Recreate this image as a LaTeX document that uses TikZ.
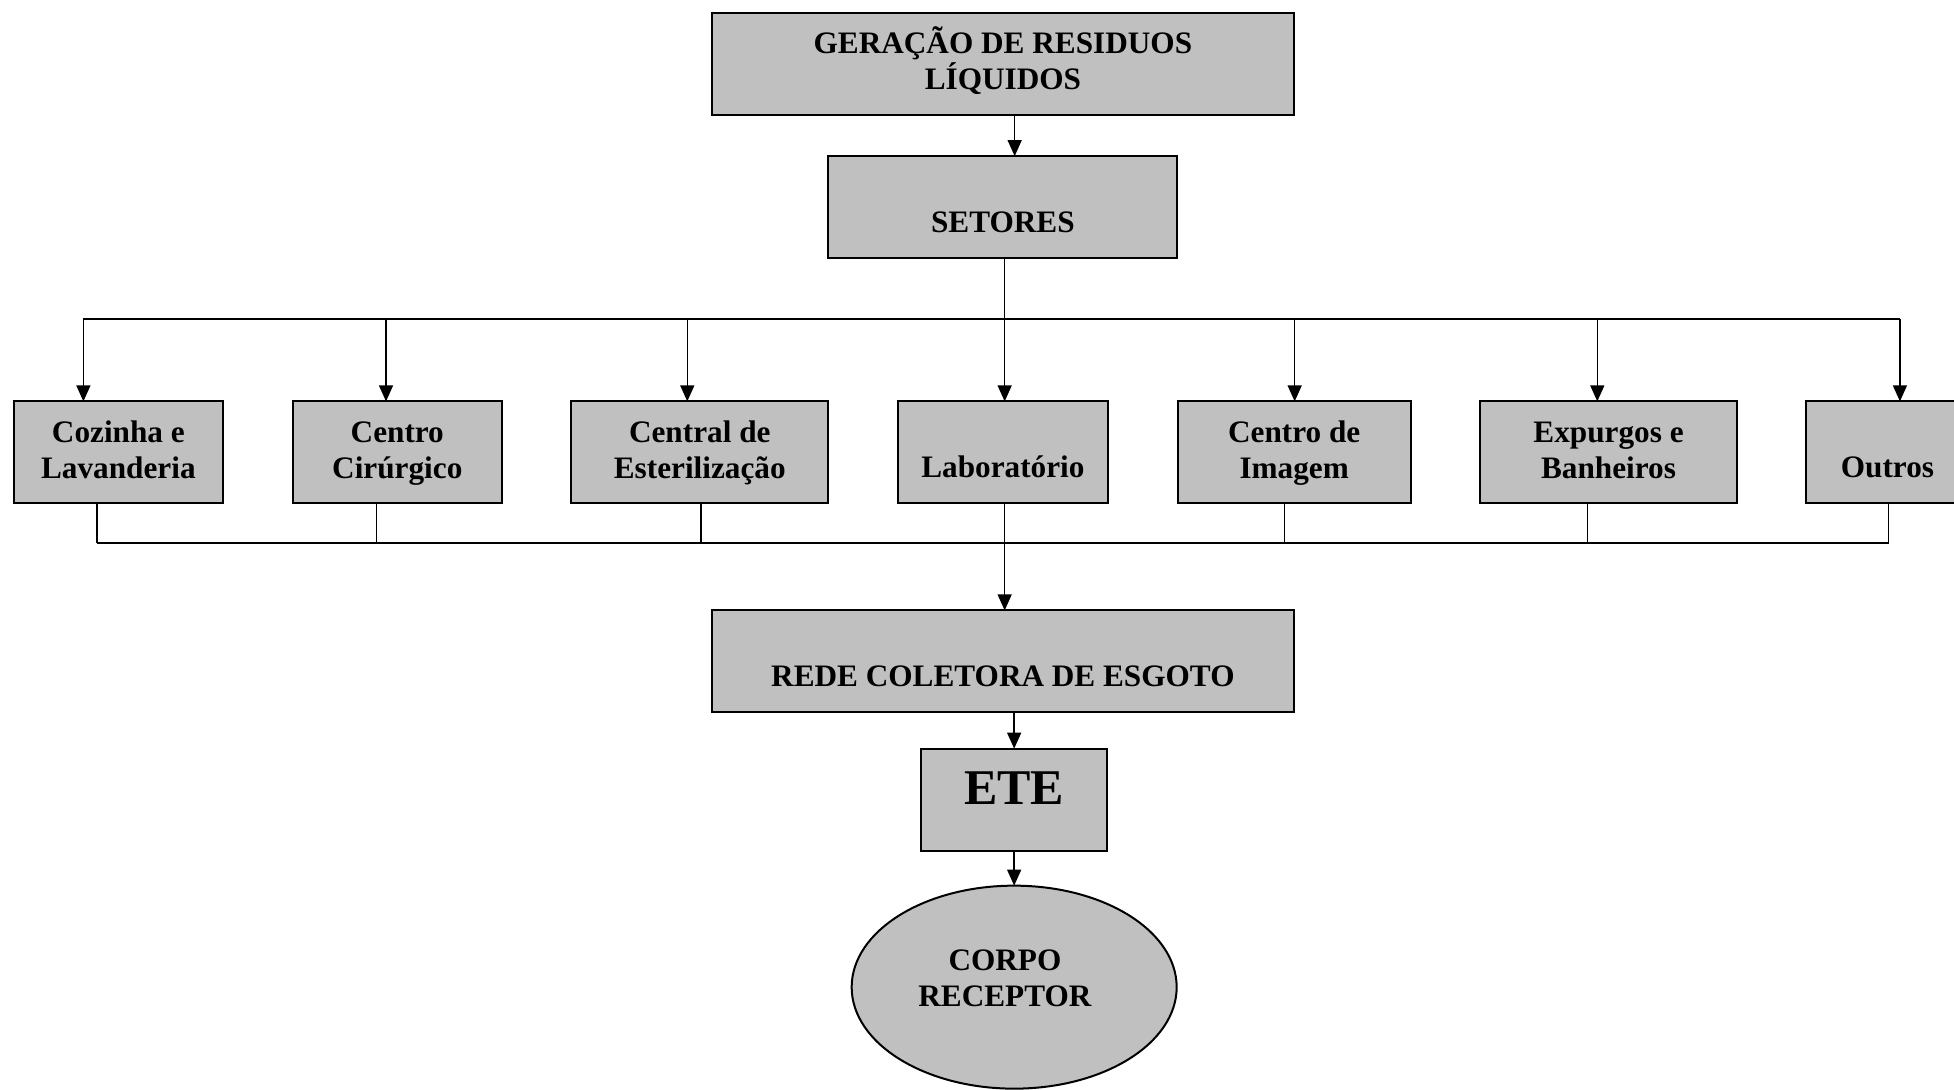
\documentclass[tikz,border=0pt]{standalone}
\usepackage{fontspec}
\setmainfont{Liberation Serif}
\usepackage{tikz}
\usetikzlibrary{shapes,arrows.meta,positioning,calc}
\definecolor{boxgray}{RGB}{192,192,192}
\tikzset{block/.style={
    draw,
    rectangle,
    line width=0.8pt,
    fill=boxgray,
    inner sep=0pt,
    outer sep=0pt,
    minimum height=40.8pt,
    align=center,
    font=\fontsize{12.5}{14.4}\selectfont\bfseries,
  },
  lowtext/.style={text height=20pt, text depth=0pt},
  twoline/.style={text height=#1, text depth=0pt},
  twoline/.default=21.1pt,
  line/.style={line width=0.55pt},
  flow/.style={line width=0.55pt, -{Triangle[length=6.4pt,width=5.6pt]}}
}

\begin{document}
\begin{tikzpicture}[x=0.4pt, y=-0.4pt]
        \useasboundingbox (0,0) rectangle (1954,1090);

        % Setores
        \node (coz) [block, twoline, minimum width=83.8pt] at (118.4,452.4) {Cozinha e\\Lavanderia};
        \node (cir) [block, twoline, minimum width=83.7pt, right=27.8pt of coz] {Centro\\Cirúrgico};
        \node (est) [block, twoline, minimum width=102.7pt, right=27.8pt of cir] {Central de\\Esterilização};
        \node (lab) [block, lowtext, minimum width=84.2pt, right=27.8pt of est] {Laboratório};
        \node (img) [block, twoline, minimum width=93.2pt, right=27.8pt of lab] {Centro de\\Imagem};
        \node (exp) [block, twoline, minimum width=102.7pt, right=27.8pt of img] {Expurgos e\\Banheiros};
        \node (out) [block, lowtext, minimum width=64.8pt, right=27.8pt of exp] {Outros};

        % top
        \node (setores) [block, lowtext, minimum width=139.6pt, above=57.3pt of lab] {SETORES};
        \node (gen) [block, twoline=20.1pt, minimum width=232.8pt, above=16.4pt of setores] {GERAÇÃO DE RESIDUOS\\LÍQUIDOS};

        % bottom
        \node (rede) [block, lowtext, minimum width=232.8pt, below=42.8pt of lab] {REDE COLETORA DE ESGOTO};
        \node (ete) [block, minimum width=74.2pt, text depth=9.6pt, font=\fontsize{20}{24}\selectfont\bfseries,
          below=14.5pt of rede, xshift=4.5pt] {ETE};
        \node (corpo) [block, ellipse, twoline=15.2pt, minimum width=130pt, minimum height=81.2pt, below=14pt of ete]
          {CORPO\hspace*{7.4pt}\\RECEPTOR\hspace*{7.4pt}};

        \coordinate (busT) at ([yshift=32.9pt]lab.north);
        \coordinate (busB) at ([yshift=-15.9pt]lab.south);
        \foreach \n/\dt/\db in {coz/-14.0/-8.5, cir/-4.5/-8.4, est/-5.0/0.5, lab/0.7/0.7,
                                img/0.2/-3.8, exp/-4.5/-8.5, out/5.0/0.5}{
          \coordinate (N\n) at ([xshift=\dt pt]\n.north);
          \coordinate (S\n) at ([xshift=\db pt]\n.south);
        }

        \draw [flow] ([xshift=4.7pt]gen.south) -- ([xshift=4.7pt]setores.north);
        \draw [line] (setores.south -| Nlab) -- (Nlab |- busT);
        \draw [line] (Ncoz |- busT) -- (Nout |- busT);
        \foreach \n in {coz,cir,est,lab,img,exp,out}
          \draw [flow] (N\n |- busT) -- (N\n);

        \foreach \n in {coz,cir,est,lab,img,exp,out}
          \draw [line] (S\n) -- (S\n |- busB);
        \draw [line] (Scoz |- busB) -- (Sout |- busB);
        \draw [flow] (Slab |- busB) -- (Slab |- rede.north);
        \draw [flow] (ete.north |- rede.south) -- (ete.north);
        \draw [flow] (ete.south) -- (corpo.north);

\end{tikzpicture}
\end{document}
